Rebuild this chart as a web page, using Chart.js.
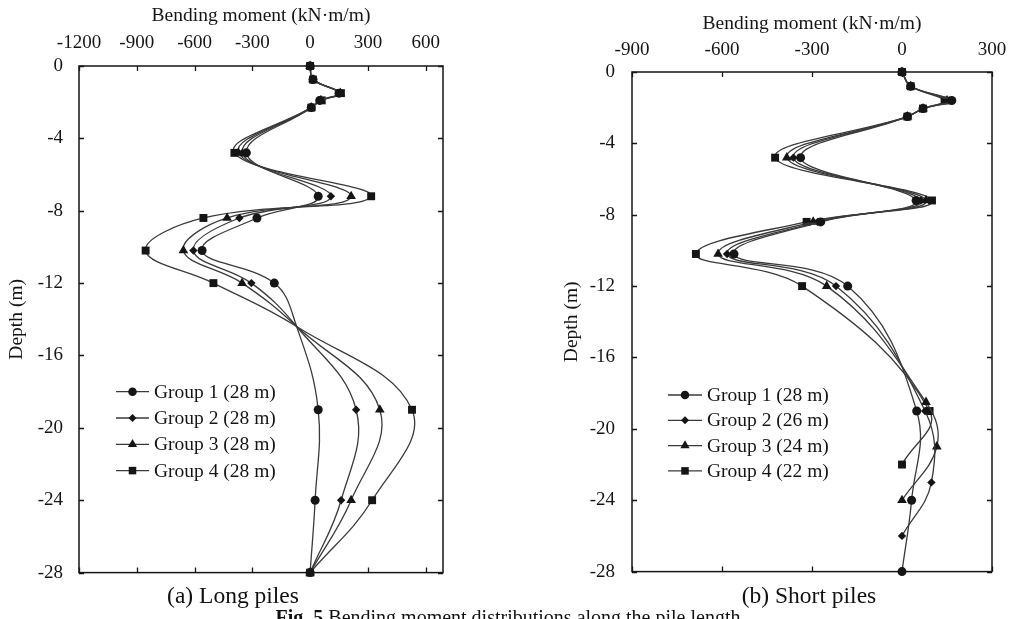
<!DOCTYPE html>
<html><head><meta charset="utf-8">
<script src="https://cdn.jsdelivr.net/npm/chart.js@4.4.1/dist/chart.umd.min.js"></script>
<style>
html,body{margin:0;padding:0;background:#fff;overflow:hidden;width:1009px;height:619px;position:relative;}
#c1{position:absolute;left:0;top:0;}
#c2{position:absolute;left:500px;top:0;}
.cap{position:absolute;font-family:"Liberation Serif","Times New Roman",serif;color:#111;white-space:nowrap;transform:translateX(-50%);}
</style></head><body>
<canvas id="c1" width="480" height="600"></canvas>
<canvas id="c2" width="540" height="600"></canvas>
<div class="cap" style="left:233px;top:584px;font-size:23.5px;line-height:23.5px;">(a) Long piles</div>
<div class="cap" style="left:809px;top:584px;font-size:23.5px;line-height:23.5px;">(b) Short piles</div>
<div class="cap" style="left:508px;top:607px;font-size:20px;line-height:20px;"><b>Fig. 5</b> Bending moment distributions along the pile length</div>
<script>
// ---------- DATA ----------
const groupNames = ['Group 1', 'Group 2', 'Group 3', 'Group 4'];
const longPileLengths = ['28 m', '28 m', '28 m', '28 m'];
const shortPileLengths = ['28 m', '26 m', '24 m', '22 m'];

// (a) Long piles: depth (m) and bending moment (kN·m/m)
const longDepths = [0, -0.75, -1.5, -1.9, -2.3, -4.8, -7.2, -8.4, -10.2, -12, -14.4, -19, -24, -28];
const longG1 = [0, 15, 150, 50, 6, -331, 42, -276, -561, -186, -70, 42, 26, 0];
const longG2 = [0, 15, 154, 53, 6, -352, 108, -367, -606, -305, -70, 239, 161, 0];
const longG3 = [0, 15, 157, 56, 6, -372, 213, -431, -658, -353, -70, 362, 213, 0];
const longG4 = [0, 15, 160, 60, 6, -393, 317, -554, -854, -502, -70, 529, 322, 0];
const longUnmarkedDepths = [-14.4];

// (b) Short piles
const shortG1Depths = [0, -0.8, -1.6, -2.05, -2.5, -4.8, -7.2, -8.4, -10.2, -12, -19, -24, -28];
const shortG1 = [0, 29, 166, 70, 18, -338, 47, -271, -560, -181, 49, 32, 0];
const shortG2Depths = [0, -0.8, -1.6, -2.05, -2.5, -4.8, -7.2, -8.4, -10.2, -12, -19, -23, -26];
const shortG2 = [0, 29, 158, 70, 18, -362, 63, -281, -583, -220, 77, 98, 0];
const shortG3Depths = [0, -0.8, -1.6, -2.05, -2.5, -4.8, -7.2, -8.4, -10.2, -12, -18.5, -21, -24];
const shortG3 = [0, 29, 150, 70, 18, -384, 80, -296, -613, -251, 80, 116, 0];
const shortG4Depths = [0, -0.8, -1.6, -2.05, -2.5, -4.8, -7.2, -8.4, -10.2, -12, -19, -22];
const shortG4 = [0, 29, 142, 70, 18, -423, 100, -318, -687, -333, 92, 0];

// tick labels
const longMomentTicks = [-1200, -900, -600, -300, 0, 300, 600];
const shortMomentTicks = [-900, -600, -300, 0, 300];
const depthTicks = [0, -4, -8, -12, -16, -20, -24, -28];

// ---------- STYLE ----------
const FONT = '"Liberation Serif", "Times New Roman", serif';
const INK = '#151515';
const LINE = '#3a3a3a';
const markerStyles = [
  {pointStyle: 'circle', radius: 4.5},
  {pointStyle: 'rectRot', radius: 4.2},
  {pointStyle: 'triangle', radius: 5.6},
  {pointStyle: 'rect', radius: 5.6}
];

function pairs(depths, vals) { return depths.map((d, i) => ({x: vals[i], y: d})); }

function makeDataset(idx, label, pts, unmarked) {
  const m = markerStyles[idx];
  return {
    label: label,
    data: pts,
    showLine: true,
    tension: 0.4,
    borderColor: LINE,
    borderWidth: 1.3,
    backgroundColor: INK,
    pointBackgroundColor: INK,
    pointBorderColor: INK,
    pointBorderWidth: 0,
    pointStyle: m.pointStyle,
    pointRadius: ctx => (unmarked && ctx.raw && unmarked.includes(ctx.raw.y)) ? 0 : m.radius,
    pointHoverRadius: m.radius,
    clip: false
  };
}

// box + inward ticks
const framePlugin = {
  id: 'frame',
  beforeDatasetsDraw(chart) {
    const {ctx, chartArea: a, scales} = chart;
    ctx.save();
    ctx.strokeStyle = INK;
    ctx.lineWidth = 1.5;
    ctx.strokeRect(a.left, a.top, a.right - a.left, a.bottom - a.top);
    ctx.lineWidth = 1.3;
    const L = 5;
    ctx.beginPath();
    scales.x.ticks.forEach(t => {
      const px = Math.round(scales.x.getPixelForValue(t.value)) + 0.5;
      ctx.moveTo(px, a.top); ctx.lineTo(px, a.top + L);
      ctx.moveTo(px, a.bottom); ctx.lineTo(px, a.bottom - L);
    });
    scales.y.ticks.forEach(t => {
      const py = Math.round(scales.y.getPixelForValue(t.value)) + 0.5;
      ctx.moveTo(a.left, py); ctx.lineTo(a.left + L, py);
      ctx.moveTo(a.right, py); ctx.lineTo(a.right - L, py);
    });
    ctx.stroke();
    ctx.restore();
  }
};

// in-plot legend
const legendPlugin = {
  id: 'inlegend',
  afterDraw(chart, args, opts) {
    const {ctx, chartArea: a} = chart;
    ctx.save();
    ctx.font = '19.5px ' + FONT;
    ctx.textBaseline = 'middle';
    ctx.textAlign = 'left';
    chart.data.datasets.forEach((ds, i) => {
      const y = a.top + opts.top + i * opts.dy;
      const x1 = a.left + opts.left, x2 = x1 + opts.lineLen;
      ctx.strokeStyle = LINE; ctx.lineWidth = 1.3;
      ctx.beginPath(); ctx.moveTo(x1, y); ctx.lineTo(x2, y); ctx.stroke();
      ctx.fillStyle = INK;
      const m = markerStyles[i];
      Chart.helpers.drawPoint(ctx, {pointStyle: m.pointStyle, radius: m.radius * 0.95, borderWidth: 0, rotation: 0}, (x1 + x2) / 2, y);
      ctx.fillStyle = INK;
      ctx.fillText(ds.label, x2 + 5, y + 1);
    });
    ctx.restore();
  }
};

function makeOptions(cfg) {
  return {
    responsive: false,
    animation: false,
    devicePixelRatio: 1,
    layout: {padding: cfg.padding},
    plugins: {
      legend: {display: false},
      tooltip: {enabled: false},
      inlegend: cfg.legend
    },
    scales: {
      x: {
        type: 'linear', position: 'top', min: cfg.xmin, max: cfg.xmax,
        afterBuildTicks: s => { s.ticks = cfg.xticks.map(v => ({value: v})); },
        ticks: {font: {family: FONT, size: 19}, color: INK, padding: cfg.xTickPad, maxRotation: 0, autoSkip: false, callback: v => String(v)},
        grid: {display: false, drawTicks: false},
        border: {display: false},
        title: {display: true, text: 'Bending moment (kN·m/m)', font: {family: FONT, size: 19.5}, color: INK, padding: {top: cfg.xTitlePad, bottom: 0}},
        afterFit: s => { s.height = cfg.xHeight; }
      },
      y: {
        type: 'linear', position: 'left', min: -28, max: 0,
        afterBuildTicks: s => { s.ticks = depthTicks.map(v => ({value: v})); },
        ticks: {font: {family: FONT, size: 19}, color: INK, padding: cfg.yTickPad, autoSkip: false, callback: v => String(v)},
        grid: {display: false, drawTicks: false},
        border: {display: false},
        title: {display: true, text: 'Depth (m)', font: {family: FONT, size: 19.5}, color: INK, padding: {top: cfg.yTitlePad, bottom: 0}},
        afterFit: s => { s.width = cfg.yWidth; }
      }
    }
  };
}

const longSeries = [longG1, longG2, longG3, longG4];
new Chart(document.getElementById('c1'), {
  type: 'scatter',
  data: {
    datasets: longSeries.map((vals, i) =>
      makeDataset(i, groupNames[i] + ' (' + longPileLengths[i] + ')', pairs(longDepths, vals), longUnmarkedDepths))
  },
  options: makeOptions({
    padding: {left: 0, top: 0, right: 37, bottom: 25},
    xmin: -1200, xmax: 690, xticks: longMomentTicks,
    xTickPad: 11.5, xTitlePad: 4, xHeight: 66,
    yTickPad: 16, yTitlePad: 5.5, yWidth: 79,
    legend: {left: 37, top: 325.7, dy: 26.3, lineLen: 33}
  }),
  plugins: [framePlugin, legendPlugin]
});

const shortDepthsList = [shortG1Depths, shortG2Depths, shortG3Depths, shortG4Depths];
const shortSeries = [shortG1, shortG2, shortG3, shortG4];
new Chart(document.getElementById('c2'), {
  type: 'scatter',
  data: {
    datasets: shortSeries.map((vals, i) =>
      makeDataset(i, groupNames[i] + ' (' + shortPileLengths[i] + ')', pairs(shortDepthsList[i], vals), null))
  },
  options: makeOptions({
    padding: {left: 0, top: 0, right: 48, bottom: 25},
    xmin: -900, xmax: 300, xticks: shortMomentTicks,
    xTickPad: 10.5, xTitlePad: 12, xHeight: 72,
    yTickPad: 17, yTitlePad: 60.3, yWidth: 132,
    legend: {left: 36, top: 323, dy: 25.3, lineLen: 34}
  }),
  plugins: [framePlugin, legendPlugin]
});
</script>
</body></html>
